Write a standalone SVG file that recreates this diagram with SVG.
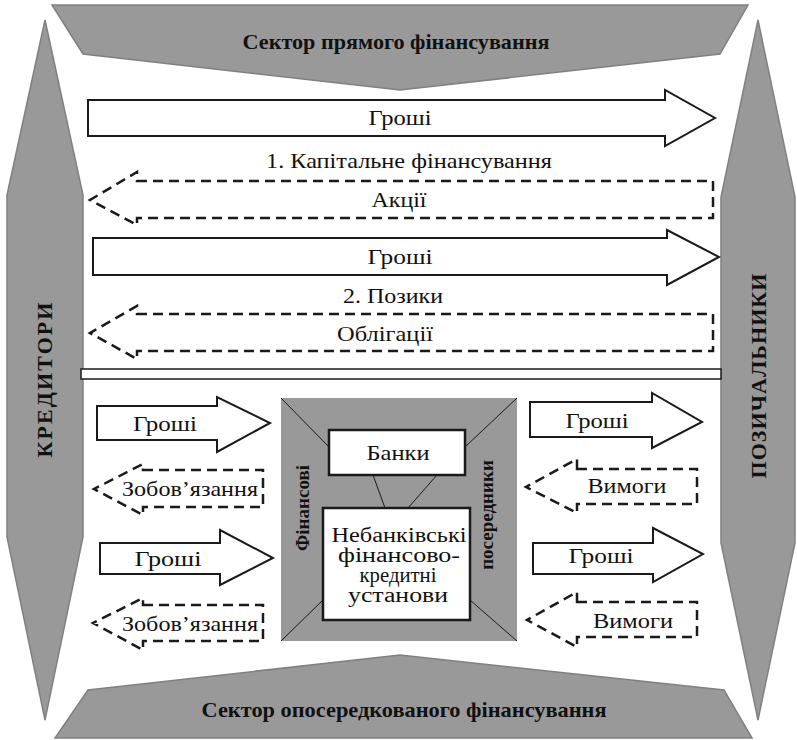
<svg xmlns="http://www.w3.org/2000/svg" width="797" height="740" viewBox="0 0 797 740">
<style>
.gray{fill:#999999;stroke:#808080;stroke-width:1.5}
.solid{fill:#ffffff;stroke:#1a1a1a;stroke-width:2;stroke-linejoin:miter}
.dash{fill:none;stroke:#1a1a1a;stroke-width:2.5;stroke-dasharray:10 6}
.box{fill:#ffffff;stroke:#1a1a1a;stroke-width:2.5}
.thin{stroke:#1a1a1a;stroke-width:1;fill:none}
text{fill:#111;text-anchor:middle}
.b{font-weight:bold}
</style>
<rect width="797" height="740" fill="#ffffff"/>
<g font-family="Times New Roman, Liberation Serif, DejaVu Serif, serif">
<g id="sector-direct">
<polygon class="gray" points="52,5 748,5 720,54 400,90 83,54"/>
<text class="b" x="396" y="49" font-size="21" textLength="307" lengthAdjust="spacingAndGlyphs">Сектор прямого фінансування</text>
</g>
<g id="sector-indirect">
<polygon class="gray" points="400,655 724,690 752,738 55,738 88,690"/>
<text class="b" x="404" y="717" font-size="21" textLength="405" lengthAdjust="spacingAndGlyphs">Сектор опосередкованого фінансування</text>
</g>
<g id="creditors">
<polygon class="gray" points="45,20 83,195 83,537 45,720 7,537 7,195"/>
<text class="b" transform="translate(52,380) rotate(-90)" font-size="22" textLength="155" lengthAdjust="spacing">КРЕДИТОРИ</text>
</g>
<g id="borrowers">
<polygon class="gray" points="758,20 795,197 795,543 758,720 721,543 721,197"/>
<text class="b" transform="translate(766,376) rotate(-90)" font-size="22" textLength="205" lengthAdjust="spacing">ПОЗИЧАЛЬНИКИ</text>
</g>
<g id="separator">
<rect x="81" y="369" width="640" height="10" fill="#ffffff" stroke="#1a1a1a" stroke-width="1.5"/>
</g>
<g id="intermediaries">
<rect x="281" y="398" width="236" height="243" fill="#999999"/>
<line class="thin" x1="281" y1="398" x2="329" y2="447"/>
<line class="thin" x1="517" y1="398" x2="465" y2="447"/>
<line class="thin" x1="373" y1="475" x2="385" y2="508"/>
<line class="thin" x1="437" y1="475" x2="408" y2="508"/>
<line class="thin" x1="323" y1="600" x2="281" y2="641"/>
<line class="thin" x1="470" y1="600" x2="517" y2="641"/>
<text class="b" transform="translate(309,508) rotate(-90)" font-size="19">Фінансові</text>
<text class="b" transform="translate(493,515) rotate(-90)" font-size="19">посередники</text>
</g>
<g id="banks">
<rect class="box" x="329" y="430" width="136" height="45"/>
<text x="398" y="460" font-size="21" textLength="63" lengthAdjust="spacingAndGlyphs">Банки</text>
</g>
<g id="nonbank">
<rect class="box" x="323" y="508" width="147" height="112"/>
<text font-size="20"><tspan x="399" y="542" textLength="135" lengthAdjust="spacingAndGlyphs">Небанківські</tspan><tspan x="399" y="562" textLength="122" lengthAdjust="spacingAndGlyphs">фінансово-</tspan><tspan x="398" y="582" textLength="77" lengthAdjust="spacingAndGlyphs">кредитні</tspan><tspan x="398" y="602" textLength="100" lengthAdjust="spacingAndGlyphs">установи</tspan></text>
</g>
<g id="connectors">
<polygon class="solid" points="88,100 665,100 665,90 715,118 665,146 665,136 88,136"/>
<text x="400" y="125" font-size="21" textLength="63" lengthAdjust="spacingAndGlyphs">Гроші</text>
<text x="409" y="168" font-size="21" textLength="286" lengthAdjust="spacingAndGlyphs">1. Капітальне фінансування</text>
<polygon class="dash" points="137,181 713,181 713,218 137,218 137,225 90,200 137,172"/>
<text x="399" y="207" font-size="21" textLength="55" lengthAdjust="spacingAndGlyphs">Акції</text>
<polygon class="solid" points="93,238 667,238 667,230 719,257 667,285 667,275 93,275"/>
<text x="400" y="264" font-size="21" textLength="65" lengthAdjust="spacingAndGlyphs">Гроші</text>
<text x="393" y="303" font-size="21" textLength="100" lengthAdjust="spacingAndGlyphs">2. Позики</text>
<polygon class="dash" points="137,314 713,314 713,351 137,351 137,359 90,333 137,306"/>
<text x="385" y="341" font-size="21" textLength="96" lengthAdjust="spacingAndGlyphs">Облігації</text>

<polygon class="solid" points="97,406 217,406 217,397 270,423 217,452 217,440 97,440"/>
<text x="165" y="431" font-size="21" textLength="64" lengthAdjust="spacingAndGlyphs">Гроші</text>
<polygon class="dash" points="143,470 263,470 263,507 143,507 143,515 94,489 143,464"/>
<text x="190" y="496" font-size="21" textLength="136" lengthAdjust="spacingAndGlyphs">Зобов’язання</text>
<polygon class="solid" points="100,543 220,543 220,530 273,558 220,585 220,574 100,574"/>
<text x="168" y="566" font-size="21" textLength="67" lengthAdjust="spacingAndGlyphs">Гроші</text>
<polygon class="dash" points="143,605 263,605 263,641 143,641 143,650 93,623 143,598"/>
<text x="190" y="631" font-size="21" textLength="136" lengthAdjust="spacingAndGlyphs">Зобов’язання</text>

<polygon class="solid" points="530,402 652,402 652,393 702,422 652,448 652,437 530,437"/>
<text x="597" y="428" font-size="21" textLength="63" lengthAdjust="spacingAndGlyphs">Гроші</text>
<polygon class="dash" points="577,469 697,469 697,504 577,504 577,513 526,487 577,459"/>
<text x="627" y="493" font-size="21" textLength="79" lengthAdjust="spacingAndGlyphs">Вимоги</text>
<polygon class="solid" points="533,543 653,543 653,528 703,554 653,582 653,574 533,574"/>
<text x="601" y="563" font-size="21" textLength="65" lengthAdjust="spacingAndGlyphs">Гроші</text>
<polygon class="dash" points="577,602 697,602 697,637 577,637 577,647 527,620 577,592"/>
<text x="633" y="628" font-size="21" textLength="80" lengthAdjust="spacingAndGlyphs">Вимоги</text>
</g>
</g>
</svg>
